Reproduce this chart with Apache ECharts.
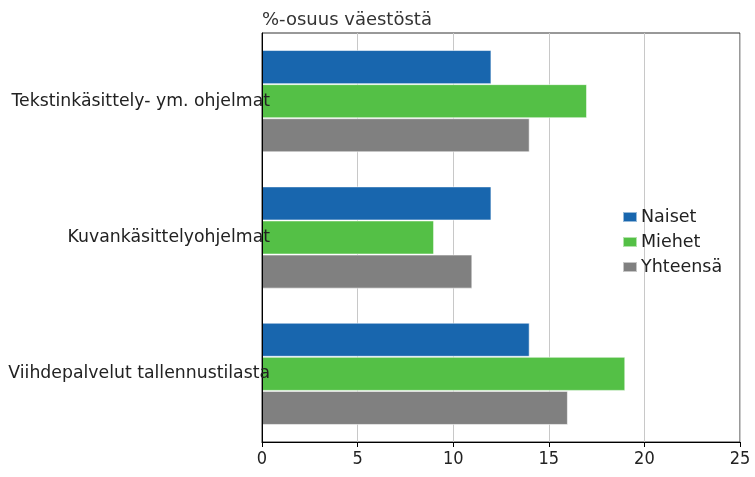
<!DOCTYPE html>
<html><head><meta charset="utf-8">
<script src="https://cdn.jsdelivr.net/npm/echarts@6/dist/echarts.min.js"></script>
<style>html,body{margin:0;padding:0;background:#fff}#c{width:755px;height:477px}</style>
</head><body><div id="c"></div>
<script>
const categories = ['Tekstinkäsittely- ym. ohjelmat', 'Kuvankäsittelyohjelmat', 'Viihdepalvelut tallennustilasta'];
const naiset = [12, 12, 14];
const miehet = [17, 9, 19];
const yhteensa = [14, 11, 16];
const xTicks = [0, 5, 10, 15, 20, 25];

const font = 'DejaVu Sans, Verdana, sans-serif';
const narrow = 'Liberation Sans Narrow, DejaVu Sans Condensed, sans-serif';
const chart = echarts.init(document.getElementById('c'));
const barStyle = c => ({color: c, borderColor: 'rgba(255,255,255,0.55)', borderWidth: 1});
chart.setOption({
  animation: false,
  textStyle: {fontFamily: font},
  title: {text: '%-osuus väestöstä', left: 257, top: 6,
    textStyle: {fontFamily: font, fontSize: 18, fontWeight: 'normal', color: '#333'}},
  grid: {left: 262, right: 15, top: 33, bottom: 35, show: true, borderColor: '#333', borderWidth: 1},
  legend: {orient: 'vertical', left: 617, top: 203, itemWidth: 14, itemHeight: 10, itemGap: 7,
    icon: 'rect', textStyle: {fontFamily: font, fontSize: 17.5, color: '#222', padding: [0,0,0,-1]},
    data: ['Naiset', 'Miehet', 'Yhteensä']},
  xAxis: {type: 'value', min: 0, max: 25, interval: 5,
    axisLine: {show: true, lineStyle: {color: '#000'}},
    axisTick: {show: true, length: 5, lineStyle: {color: '#000'}},
    axisLabel: {fontFamily: narrow, fontSize: 18, color: '#222', margin: 8,
      formatter: v => xTicks.includes(v) ? String(v) : ''},
    splitLine: {show: true, lineStyle: {color: '#c8c8c8'}}},
  yAxis: {type: 'category', data: categories, inverse: true, z: 10,
    axisLine: {show: true, lineStyle: {color: '#000'}},
    axisTick: {show: false},
    axisLabel: {fontFamily: font, fontSize: 17.3, color: '#222', margin: -8}},
  series: [
    {name: 'Naiset', type: 'bar', data: naiset, itemStyle: barStyle('#1866ae'), barGap: '0%', barCategoryGap: '25%'},
    {name: 'Miehet', type: 'bar', data: miehet, itemStyle: barStyle('#54c046')},
    {name: 'Yhteensä', type: 'bar', data: yhteensa, itemStyle: barStyle('#808080')}
  ]
});
</script></body></html>
